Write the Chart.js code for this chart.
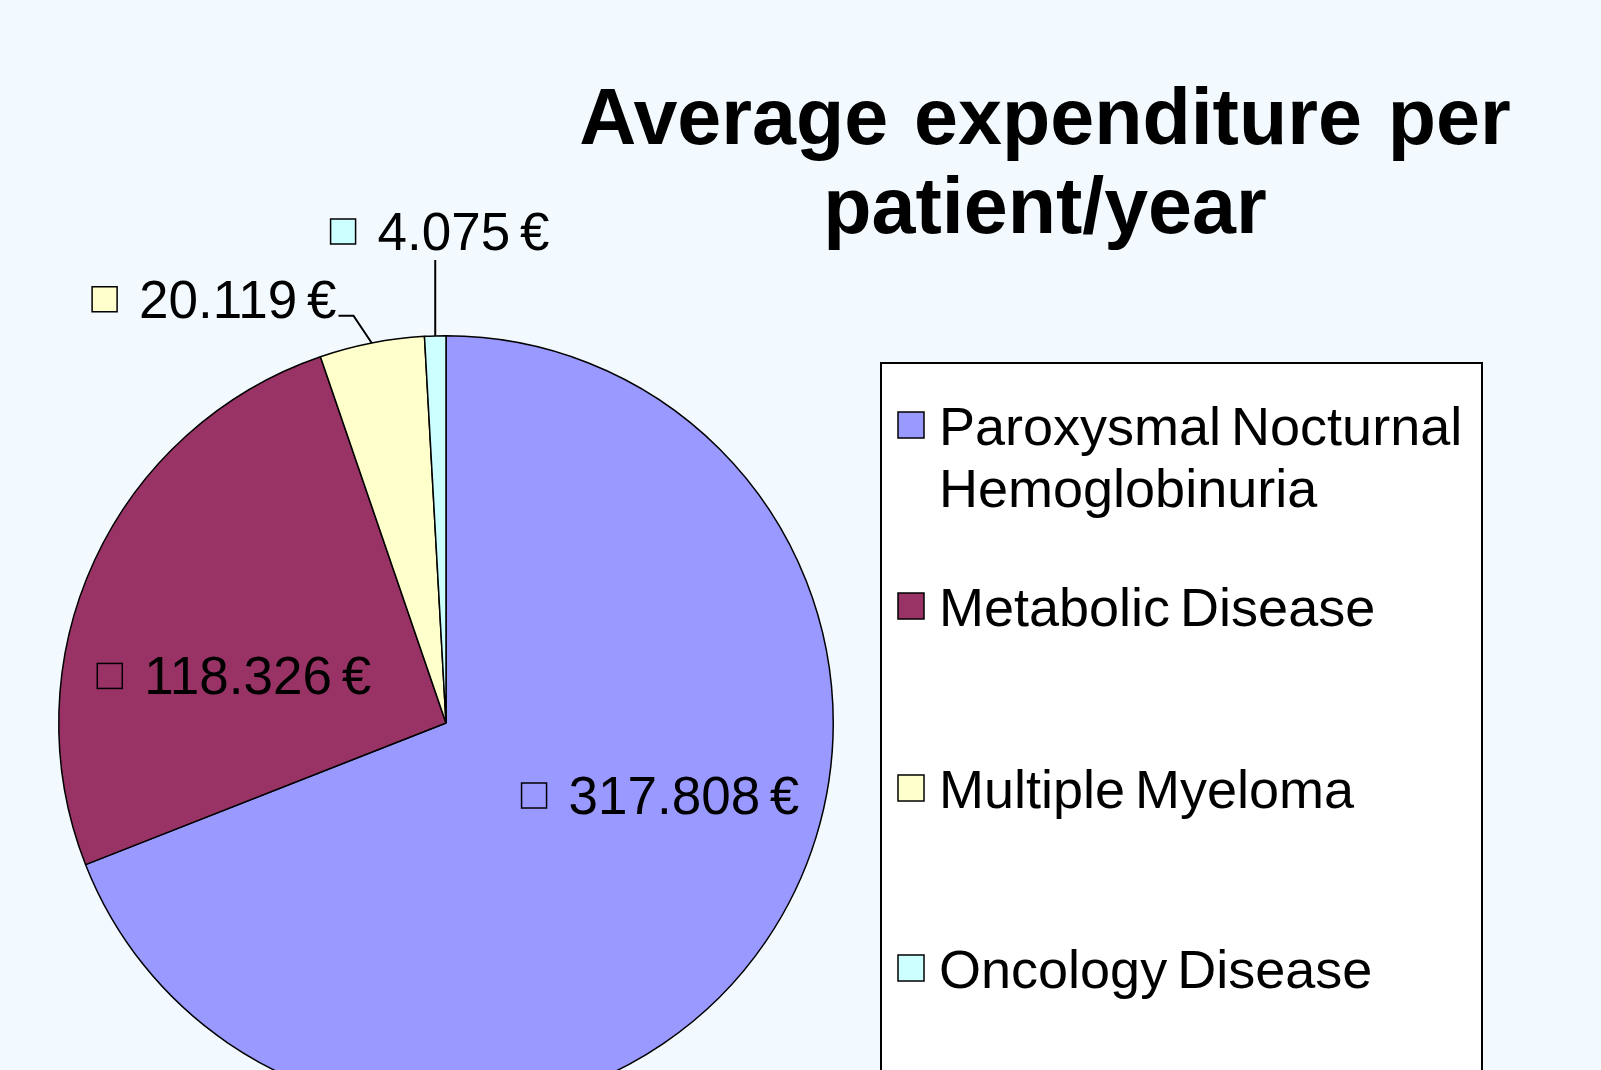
<!DOCTYPE html>
<html>
<head>
<meta charset="utf-8">
<script src="https://cdn.jsdelivr.net/npm/chart.js@4.4.1/dist/chart.umd.min.js"></script>
<style>
    html, body { margin: 0; padding: 0; width: 1601px; height: 1070px; overflow: hidden; background: #f3faff; }
    #wrap { position: relative; width: 1601px; height: 1112px; }
</style>
</head>
<body>
<div id="wrap"><canvas id="chart"></canvas></div>
<script>
(function () {
    const categories = [['Paroxysmal Nocturnal', 'Hemoglobinuria'], 'Metabolic Disease', 'Multiple Myeloma', 'Oncology Disease'];
    const expenditure = [317808, 118326, 20119, 4075];
    const sliceColors = ['#9999ff', '#993366', '#ffffcc', '#ccffff'];
    const titleLines = ['Average expenditure per', 'patient/year'];
    const currency = '€';

    const FONT = '"Liberation Sans", Arial, sans-serif';

    // where each value label sits: polar position of label centre from pie centre (deg, radius units)
    const labelLayout = [
        { angle: 18.8, r: 0.585 },
        { angle: 192.4, r: 0.56 },
        { angle: 241.3, r: 1.246, leader: true },
        { angle: 269.3, r: 1.268, leader: true }
    ];
    const legendBaselines = [[445, 507], [626], [808], [988]];

    function formatValue(v) {
        return String(v).replace(/\B(?=(\d{3})+(?!\d))/g, '.') + ' ' + currency;
    }

    const titlePlugin = {
        id: 'slideTitle',
        afterDraw: function (chart) {
            const ctx = chart.ctx;
            ctx.save();
            ctx.fillStyle = '#000';
            ctx.font = 'bold 79px ' + FONT;
            ctx.wordSpacing = '4px';
            ctx.textAlign = 'center';
            ctx.textBaseline = 'alphabetic';
            ctx.fillText(titleLines[0], 1045, 144);
            ctx.fillText(titleLines[1], 1045, 233);
            ctx.restore();
        }
    };

    const legendPlugin = {
        id: 'boxLegend',
        afterDraw: function (chart) {
            const ctx = chart.ctx;
            const labels = chart.data.labels;
            const colors = chart.data.datasets[0].backgroundColor;
            ctx.save();
            ctx.fillStyle = '#ffffff';
            ctx.fillRect(881, 363, 601, 760);
            ctx.lineWidth = 2;
            ctx.strokeStyle = '#000';
            ctx.strokeRect(881, 363, 601, 760);
            ctx.font = '54px ' + FONT;
            ctx.wordSpacing = '-5px';
            ctx.textBaseline = 'alphabetic';
            ctx.textAlign = 'left';
            labels.forEach(function (label, i) {
                const lines = Array.isArray(label) ? label : [label];
                const bases = legendBaselines[i];
                const my = bases[0] - 20;
                ctx.fillStyle = colors[i];
                ctx.fillRect(898, my - 13, 26, 26);
                ctx.lineWidth = 1.5;
                ctx.strokeRect(898, my - 13, 26, 26);
                ctx.fillStyle = '#000';
                lines.forEach(function (line, j) {
                    ctx.fillText(line, 939, bases[j]);
                });
            });
            ctx.restore();
        }
    };

    const valueLabelPlugin = {
        id: 'valueLabels',
        afterDatasetsDraw: function (chart) {
            const ctx = chart.ctx;
            const meta = chart.getDatasetMeta(0);
            const values = chart.data.datasets[0].data;
            const colors = chart.data.datasets[0].backgroundColor;
            ctx.save();
            ctx.font = '53px ' + FONT;
            ctx.wordSpacing = '-5px';
            ctx.textBaseline = 'alphabetic';
            ctx.textAlign = 'left';
            meta.data.forEach(function (arc, i) {
                const p = arc.getProps(['x', 'y', 'startAngle', 'endAngle', 'outerRadius'], true);
                const lay = labelLayout[i];
                const a = lay.angle * Math.PI / 180;
                const cx = p.x + Math.cos(a) * lay.r * p.outerRadius;
                const cy = p.y + Math.sin(a) * lay.r * p.outerRadius;
                const text = formatValue(values[i]);
                const tw = ctx.measureText(text).width;
                const box = 25, gap = 22;
                const total = box + gap + tw;
                const left = cx - total / 2;
                const right = cx + total / 2;

                if (lay.leader) {
                    const mid = (p.startAngle + p.endAngle) / 2;
                    const ex = p.x + Math.cos(mid) * p.outerRadius;
                    const ey = p.y + Math.sin(mid) * p.outerRadius;
                    ctx.strokeStyle = '#000';
                    ctx.lineWidth = 2;
                    ctx.beginPath();
                    if (ex > left && ex < right) {
                        ctx.moveTo(ex, ey);
                        ctx.lineTo(ex, cy + 28);
                    } else {
                        ctx.moveTo(ex, ey);
                        ctx.lineTo(right + 17, cy + 16);
                        ctx.lineTo(right + 2, cy + 16);
                    }
                    ctx.stroke();
                }

                ctx.fillStyle = colors[i];
                ctx.fillRect(left, cy - 13, box, box);
                ctx.lineWidth = 1.5;
                ctx.strokeStyle = '#000';
                ctx.strokeRect(left, cy - 13, box, box);
                ctx.fillStyle = '#000';
                ctx.fillText(text, left + box + gap, cy + 18);
            });
            ctx.restore();
        }
    };

    const canvas = document.getElementById('chart');
    new Chart(canvas.getContext('2d'), {
        type: 'pie',
        data: {
            labels: categories,
            datasets: [
                {
                    label: 'Average expenditure per patient/year',
                    data: expenditure,
                    backgroundColor: sliceColors,
                    borderColor: '#000000',
                    borderWidth: 1.5
                }
            ]
        },
        options: {
            responsive: true,
            maintainAspectRatio: false,
            animation: false,
            layout: {
                padding: { left: 58, top: 334, right: 767, bottom: 0 }
            },
            plugins: {
                legend: { display: false },
                tooltip: { enabled: false },
                title: { display: false }
            }
        },
        plugins: [valueLabelPlugin, titlePlugin, legendPlugin]
    });
})();
</script>
</body>
</html>
